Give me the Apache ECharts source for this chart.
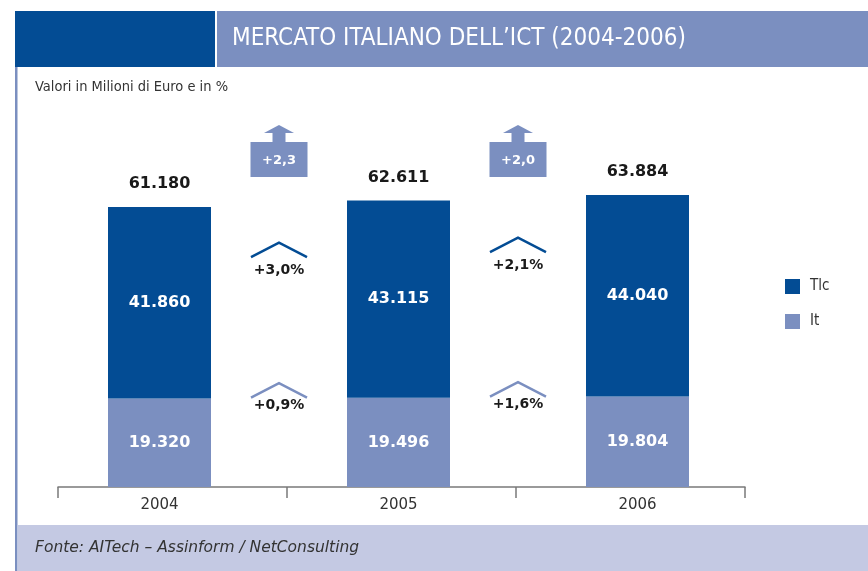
<!DOCTYPE html>
<html>
<head>
<meta charset="utf-8">
<script src="https://cdn.jsdelivr.net/npm/echarts@6/dist/echarts.min.js"></script>
<style>
  html, body { margin: 0; padding: 0; background: #fff; }
  #chart { width: 868px; height: 571px; }
</style>
</head>
<body>
<div id="chart"></div>
<script>
// Mercato italiano dell'ICT, valori in milioni di euro
const years = ['2004', '2005', '2006'];
const itValues = [19320, 19496, 19804];
const tlcValues = [41860, 43115, 44040];
const totals = [61180, 62611, 63884];
// crescite tra un anno e il successivo (%)
const totalGrowth = [2.3, 2.0];
const tlcGrowth = [3.0, 2.1];
const itGrowth = [0.9, 1.6];

const DARK = '#034c94';
const LIGHT = '#7b8fc0';
const COND = '"DejaVu Sans Condensed", "Liberation Sans Narrow", sans-serif';
const WIDE = '"DejaVu Sans", "Liberation Sans", sans-serif';
const Y_MAX = 80000;

const fmtNum = v => String(v).replace(/\B(?=(\d{3})+(?!\d))/g, '.');
const fmtPct = v => '+' + v.toFixed(1).replace('.', ',');

function chevron(cx, apexY, color) {
  return {
    type: 'polyline',
    shape: { points: [[cx - 28, apexY + 14.5], [cx, apexY], [cx + 28, apexY + 14.5]] },
    style: { stroke: color, lineWidth: 2.5, fill: null }
  };
}

// annotazioni tra due anni consecutivi
function renderGap(params, api) {
  const i = params.dataIndex;
  const xa = api.coord([i, 0])[0];
  const xb = api.coord([i + 1, 0])[0];
  const cx = (xa + xb) / 2;
  const gridTop = api.coord([i, Y_MAX])[1];
  const tlcY = api.coord([i, (itValues[i] + itValues[i + 1]) / 2 + 0.8 * (tlcValues[i] + tlcValues[i + 1]) / 2])[1];
  const itY = api.coord([i, (itValues[i] + itValues[i + 1]) / 2])[1] - 15;
  const boxTop = gridTop + 21;
  return {
    type: 'group',
    children: [
      { type: 'rect', shape: { x: cx - 28.5, y: boxTop, width: 57, height: 35 }, style: { fill: LIGHT } },
      { type: 'rect', shape: { x: cx - 6.5, y: boxTop - 10, width: 13, height: 10 }, style: { fill: LIGHT } },
      { type: 'polygon', shape: { points: [[cx - 15, boxTop - 9], [cx, boxTop - 17], [cx + 15, boxTop - 9]] }, style: { fill: LIGHT } },
      { type: 'text', x: cx, y: boxTop + 19, style: { text: fmtPct(api.value(1)), fill: '#fff', font: 'bold 13px ' + WIDE, align: 'center', verticalAlign: 'middle' } },
      chevron(cx, tlcY, DARK),
      { type: 'text', x: cx, y: tlcY + 28, style: { text: fmtPct(api.value(2)) + '%', fill: '#1a1a1a', font: 'bold 14px ' + WIDE, align: 'center', verticalAlign: 'middle' } },
      chevron(cx, itY, LIGHT),
      { type: 'text', x: cx, y: itY + 22, style: { text: fmtPct(api.value(3)) + '%', fill: '#1a1a1a', font: 'bold 14px ' + WIDE, align: 'center', verticalAlign: 'middle' } }
    ]
  };
}

const barLabel = {
  show: true, position: 'inside', color: '#fff', fontWeight: 'bold', fontSize: 16, fontFamily: WIDE,
  formatter: p => fmtNum(p.value)
};

const chart = echarts.init(document.getElementById('chart'), null, { renderer: 'canvas' });
chart.setOption({
  animation: false,
  grid: [
    { left: 40, right: 111, top: 121, bottom: 84 },
    { left: 58, right: 123, top: 121, bottom: 84 }
  ],
  xAxis: [
    {
      type: 'category', data: years, gridIndex: 0,
      axisLine: { show: false }, axisTick: { show: false },
      axisLabel: { color: '#333', fontSize: 15, fontFamily: WIDE, margin: 11 }
    },
    {
      type: 'category', data: years, gridIndex: 1, boundaryGap: true,
      axisLine: { lineStyle: { color: '#7a7a7a', width: 1.5 } },
      axisTick: { show: true, length: 11, lineStyle: { color: '#7a7a7a', width: 1.5 } },
      axisLabel: { show: false }
    }
  ],
  yAxis: [
    { type: 'value', gridIndex: 0, min: 0, max: Y_MAX, show: false },
    { type: 'value', gridIndex: 1, min: 0, max: Y_MAX, show: false }
  ],
  legend: {
    data: ['Tlc', 'It'],
    orient: 'vertical',
    left: 785, top: 279, padding: 0,
    icon: 'rect',
    itemWidth: 15, itemHeight: 15, itemGap: 20,
    textStyle: { color: '#333', fontSize: 15, fontFamily: COND, padding: [0, 0, 0, 5] }
  },
  series: [
    { name: 'It', type: 'bar', stack: 'ict', data: itValues, barWidth: 103, itemStyle: { color: LIGHT }, label: barLabel },
    { name: 'Tlc', type: 'bar', stack: 'ict', data: tlcValues, barWidth: 103, itemStyle: { color: DARK }, label: barLabel },
    {
      name: 'Totale', type: 'scatter', data: totals, symbolSize: 0,
      itemStyle: { opacity: 1 },
      label: { show: true, position: 'top', distance: 15, color: '#1a1a1a', fontWeight: 'bold', fontSize: 16, fontFamily: WIDE, formatter: p => fmtNum(p.value) }
    },
    {
      name: 'Crescita', type: 'custom', renderItem: renderGap,
      data: totalGrowth.map((g, i) => [i, g, tlcGrowth[i], itGrowth[i]])
    }
  ],
  graphic: [
    { type: 'rect', left: 15, top: 11, shape: { width: 200, height: 56 }, style: { fill: DARK } },
    { type: 'rect', left: 217, top: 11, shape: { width: 651, height: 56 }, style: { fill: LIGHT } },
    { type: 'text', left: 232, top: 27, style: { text: "MERCATO ITALIANO DELL\u2019ICT (2004-2006)", fill: '#fff', font: '24px ' + COND } },
    { type: 'rect', left: 15, top: 67, shape: { width: 2.5, height: 504 }, style: { fill: LIGHT } },
    { type: 'text', left: 35, top: 80, style: { text: 'Valori in Milioni di Euro e in %', fill: '#333', font: '14.5px ' + COND } },
    { type: 'rect', left: 17.5, top: 525, shape: { width: 851, height: 46 }, style: { fill: '#c4c9e3' } },
    { type: 'text', left: 35, top: 540, style: { text: 'Fonte: AITech \u2013 Assinform / NetConsulting', fill: '#333', font: 'italic 15.5px ' + WIDE } }
  ]
});
</script>
</body>
</html>
